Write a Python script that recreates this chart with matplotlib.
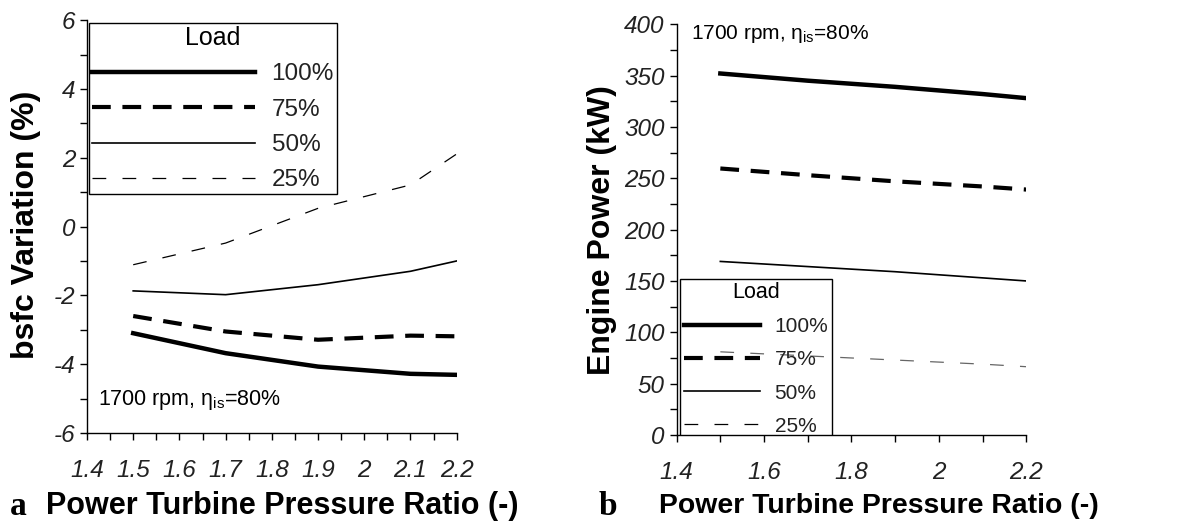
import matplotlib
matplotlib.use("Agg")
import matplotlib.pyplot as plt
import numpy as np

plt.rcParams['font.family'] = ['Liberation Sans', 'DejaVu Sans']
plt.rcParams['axes.unicode_minus'] = False

# data
loads = ['100%', '75%', '50%', '25%']
pr = [1.5, 1.7, 1.9, 2.1, 2.2]
bsfc_100 = [-3.1, -3.68, -4.07, -4.28, -4.31]
bsfc_75 = [-2.6, -3.05, -3.29, -3.17, -3.19]
bsfc_50 = [-1.87, -1.98, -1.69, -1.3, -1.0]
bsfc_25 = [-1.11, -0.48, 0.53, 1.21, 2.11]
pow_100 = [352, 345, 339, 332, 328]
pow_75 = [259.5, 253, 247, 242, 239]
pow_50 = [169, 164, 159, 153, 150]
pow_25 = [81, 77, 73, 69, 66.5]

xlabels_a = ['1.4', '1.5', '1.6', '1.7', '1.8', '1.9', '2', '2.1', '2.2']
xlabels_b = ['1.4', '1.6', '1.8', '2', '2.2']

# line styles per load
styles = [
    dict(color='black', lw=3.2, ls='-'),
    dict(color='black', lw=3.0, ls=(0, (4.5, 2.8))),
    dict(color='black', lw=1.2, ls='-'),
    dict(color='black', lw=0.9, ls=(0, (11, 13))),
]

fig = plt.figure(figsize=(11.85, 5.26), dpi=100)
ax1 = fig.add_axes([0.0734, 0.1768, 0.312, 0.785])
ax2 = fig.add_axes([0.571, 0.173, 0.295, 0.781])


def style_axes(ax):
    for s in ['top', 'right']:
        ax.spines[s].set_visible(False)
    for s in ['left', 'bottom']:
        ax.spines[s].set_linewidth(1.0)
    ax.tick_params(which='both', direction='out', length=5, width=1,
                   labelsize=17.5)
    ax.tick_params(axis='x', pad=14)
    for lab in ax.get_xticklabels() + ax.get_yticklabels():
        lab.set_fontstyle('italic')
        lab.set_color('#222222')


# panel a
for vals, st, lab in zip([bsfc_100, bsfc_75, bsfc_50, bsfc_25], styles, loads):
    ax1.plot(pr, vals, label=lab, **st)
ax1.set_xlim(1.4, 2.2)
ax1.set_ylim(-6, 6)
ax1.set_xticks(np.arange(1.4, 2.21, 0.1))
ax1.set_xticks(np.arange(1.45, 2.2, 0.1), minor=True)
ax1.set_xticklabels(xlabels_a)
ax1.set_yticks(np.arange(-6, 7, 2))
ax1.set_yticks(np.arange(-5, 6, 2), minor=True)
ax1.set_ylabel('bsfc Variation (%)', fontsize=23, fontweight='bold')
ax1.yaxis.set_label_coords(-0.125, 0.505)
ax1.set_xlabel('Power Turbine Pressure Ratio (-)', fontsize=22, fontweight='bold')
ax1.xaxis.set_label_coords(0.527, -0.14)
style_axes(ax1)
ax1.text(0.03, 0.08, r'1700 rpm, $\mathregular{\eta_{is}}$=80%',
         transform=ax1.transAxes, fontsize=15.5, va='center')
leg1 = ax1.legend(title='Load', loc='upper left', bbox_to_anchor=(0.005, 0.993),
                  fontsize=17.5, title_fontsize=18, handlelength=6.7,
                  handletextpad=0.7, labelspacing=0.55, borderpad=0.12,
                  borderaxespad=0, fancybox=False, edgecolor='black',
                  framealpha=1)
leg1.get_frame().set_linewidth(1.0)
for t in leg1.get_texts():
    t.set_color('#222222')

# panel b
for vals, st, lab in zip([pow_100, pow_75, pow_50, pow_25], styles, loads):
    ax2.plot(pr, vals, label=lab, **st)
ax2.lines[3].set_color('0.4')
ax2.set_xlim(1.4, 2.2)
ax2.set_ylim(0, 400)
ax2.set_xticks(np.arange(1.4, 2.21, 0.2))
ax2.set_xticks(np.arange(1.5, 2.2, 0.2), minor=True)
ax2.set_xticklabels(xlabels_b)
ax2.set_yticks(np.arange(0, 401, 50))
ax2.set_yticks(np.arange(25, 400, 50), minor=True)
ax2.set_ylabel('Engine Power (kW)', fontsize=23, fontweight='bold')
ax2.yaxis.set_label_coords(-0.172, 0.5)
ax2.set_xlabel('Power Turbine Pressure Ratio (-)', fontsize=20.4, fontweight='bold')
ax2.xaxis.set_label_coords(0.579, -0.14)
style_axes(ax2)
ax2.text(0.04, 0.975, r'1700 rpm, $\mathregular{\eta_{is}}$=80%',
         transform=ax2.transAxes, fontsize=15, va='center')
leg2 = ax2.legend(title='Load', loc='upper left', bbox_to_anchor=(0.011, 0.38),
                  fontsize=15, title_fontsize=15.5, handlelength=3.65,
                  handletextpad=0.72, labelspacing=0.68, borderpad=0.15,
                  borderaxespad=0, fancybox=False, edgecolor='black',
                  facecolor='none', framealpha=1)
leg2.get_frame().set_linewidth(1.0)
leg2.get_frame().set_clip_box(ax2.bbox)
leg2.get_frame().set_clip_on(True)
leg2.legend_handles[3].set_color('black')
for t in leg2.get_texts():
    t.set_color('#222222')

fig.text(0.008, 0.02, 'a', fontsize=24, fontweight='bold',
         family=['Liberation Serif', 'DejaVu Serif'])
fig.text(0.505, 0.02, 'b', fontsize=24, fontweight='bold',
         family=['Liberation Serif', 'DejaVu Serif'])

fig.savefig('out.png', dpi=100)
